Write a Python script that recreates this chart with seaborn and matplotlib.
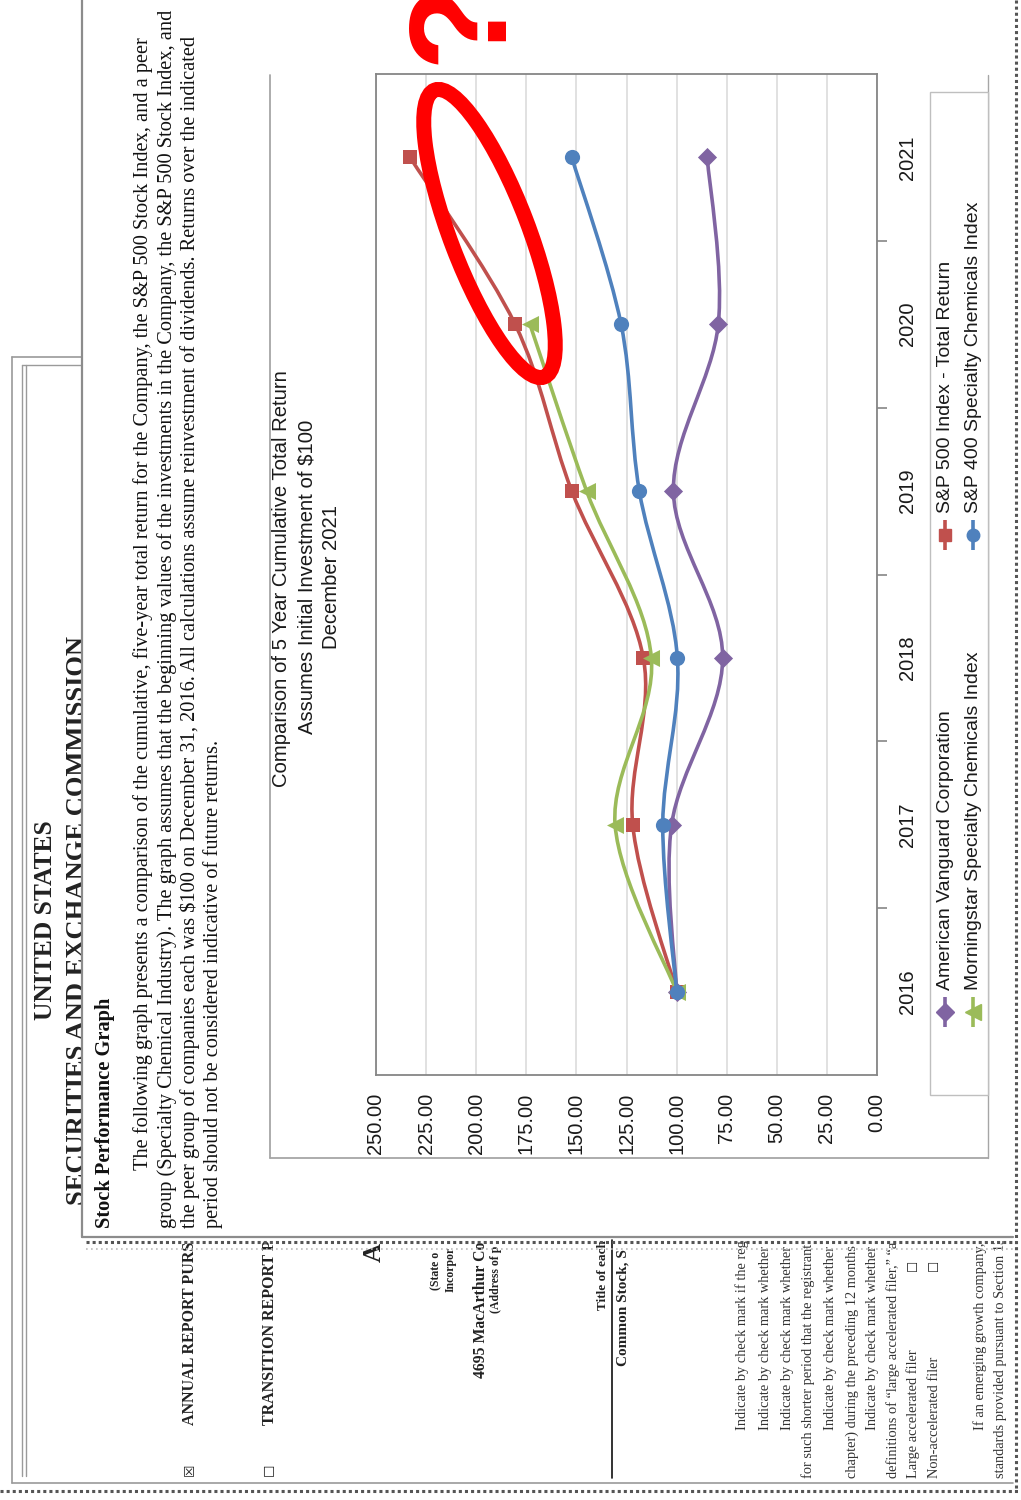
import numpy as np
import pandas as pd
import matplotlib
matplotlib.use("Agg")
import matplotlib.pyplot as plt
import seaborn as sns
from matplotlib.path import Path
from matplotlib.patches import PathPatch, Ellipse, Rectangle

# ---- data -------------------------------------------------------------
years = [2016, 2017, 2018, 2019, 2020, 2021]
series_names = ["American Vanguard Corporation",
                "S&P 500 Index - Total Return",
                "Morningstar Specialty Chemicals Index",
                "S&P 400 Specialty Chemicals Index"]
avd = [100.0, 102.5, 77.0, 101.6, 79.2, 84.7]
sp500 = [100.0, 121.9, 116.6, 152.3, 180.6, 233.0]
morningstar = [100.0, 130.7, 112.6, 144.9, 173.2, np.nan]
sp400 = [100.0, 106.9, 99.6, 118.6, 127.7, 152.3]
value_ticks = [0, 25, 50, 75, 100, 125, 150, 175, 200, 225, 250]
title_lines = ["Comparison of 5 Year Cumulative Total Return",
               "Assumes Initial Investment of $100",
               "December 2021"]

colors = ["#8064A2", "#C0504D", "#9BBB59", "#4F81BD"]
markers = ["D", "s", "<", "o"]
marker_sizes = [95, 115, 150, 120]

values = [avd, sp500, morningstar, sp400]
df = pd.DataFrame({
    "series": np.repeat(series_names, len(years)),
    "year": years * len(series_names),
    "pos": list(range(len(years))) * len(series_names),
    "value": np.concatenate(values),
})

# ---- figure -----------------------------------------------------------
sns.set_theme(style="white")
plt.rcParams["font.family"] = ["Liberation Sans", "DejaVu Sans"]

W, H = 1021, 1500
fig = plt.figure(figsize=(W / 100, H / 100), dpi=100)
fig.patch.set_facecolor("white")
renderer = fig.canvas.get_renderer()

# page layer in pixel units (y grows downward)
page = fig.add_axes([0, 0, 1, 1], zorder=0)
page.set_xlim(0, W)
page.set_ylim(H, 0)
page.axis("off")

SERIF = ["Liberation Serif", "DejaVu Serif"]
SANS = ["Liberation Sans", "DejaVu Sans"]

# region of the underlying cover page left visible below the graph page
lower_clip = Rectangle((0, 1241), W, H - 1241, transform=page.transData)


def vtext(axis, x, y0, s, size, y1=None, z=3, clip=False, **kw):
    """Text reading bottom-to-top, starting at y0; optionally stretched to end at y1."""
    t = axis.text(x, y0, s, rotation=90, rotation_mode="anchor",
                  ha="left", va="center", fontsize=size, zorder=z, **kw)
    if y1 is not None:
        ext = t.get_window_extent(renderer)
        t.set_fontsize(size * (y0 - y1) / ext.height)
    if clip:
        t.set_clip_on(True)
        t.set_clip_path(lower_clip)
    return t


# ---- cover page underneath -------------------------------------------
g = "#9A9A9A"
page.plot([12, 12], [357, 1483], color=g, lw=1.2, zorder=1)
page.plot([22, 22], [365, 1476], color=g, lw=1.0, zorder=1)
page.plot([26, 26], [365, 1476], color=g, lw=1.0, zorder=1)
page.plot([12, 82], [357, 357], color=g, lw=1.2, zorder=1)
page.plot([22, 82], [365, 365], color=g, lw=1.0, zorder=1)
page.plot([12, 1013], [1483, 1483], color=g, lw=1.2, zorder=1)
page.plot([0, W], [1491, 1491], color="#555555", lw=2.2, ls=(0, (1, 1)), zorder=1)
page.plot([1016, 1016], [0, 1491], color="#555555", lw=2.2, ls=(0, (1, 1)), zorder=6)

dark = "#222222"
vtext(page, 45, 1020, "UNITED STATES", 16, y1=820, z=1, family=SERIF,
      weight="bold", color=dark)
vtext(page, 77, 1205, "SECURITIES AND EXCHANGE COMMISSION", 16, y1=635, z=1,
      family=SERIF, weight="bold", color=dark)

page.text(190, 1470, "\u2612", rotation=90, ha="center", va="center",
          fontsize=10, family=["DejaVu Sans"], color=dark, zorder=1)
page.text(270, 1470, "\u2610", rotation=90, ha="center", va="center",
          fontsize=10, family=["DejaVu Sans"], color=dark, zorder=1)

cover_bold = [
    (190, 1425, "ANNUAL REPORT PURS", 11.5),
    (270, 1425, "TRANSITION REPORT P", 11.5),
    (374, 1262, "A", 19),
    (436, 1290, "(State o", 8.5),
    (451, 1292, "Incorpor", 8.5),
    (496, 1313, "(Address of p", 8.5),
    (603, 1310, "Title of each", 9.5),
    (623, 1366, "Common Stock, S", 11),
]
for x, y0, s, size in cover_bold:
    vtext(page, x, y0, s, size, z=1, clip=True, family=SERIF,
          weight="bold", color=dark)
vtext(page, 481, 1378, "4695 MacArthur Co", 12, y1=1243, z=1, clip=True,
      family=SERIF, weight="bold", color=dark)
page.plot([612, 612], [1240, 1478], color="#111111", lw=1.2, zorder=1)

small_lines = [
    (742, 1430, "Indicate by check mark if the reg"),
    (765, 1430, "Indicate by check mark whether"),
    (787, 1430, "Indicate by check mark whether"),
    (808, 1478, "for such shorter period that the registrant"),
    (830, 1430, "Indicate by check mark whether"),
    (852, 1478, "chapter) during the preceding 12 months"),
    (872, 1430, "Indicate by check mark whether"),
    (893, 1478, "definitions of \u201clarge accelerated filer,\u201d \u201ca"),
    (913, 1478, "Large accelerated filer"),
    (934, 1478, "Non-accelerated filer"),
    (980, 1430, "If an emerging growth company,"),
    (1000, 1478, "standards provided pursuant to Section 13"),
]
for x, y0, s in small_lines:
    vtext(page, x, y0, s, 10.4, z=1, clip=True, family=SERIF, color="#333333")
for x in (913, 934):
    page.text(x, 1265, "\u2610", rotation=90, ha="center", va="center",
              fontsize=9, family=["DejaVu Sans"], color=dark, zorder=1)

# ---- front page with the graph -----------------------------------------
page.add_patch(Rectangle((82, -5), 1013 - 82, 1237 + 5, facecolor="white",
                         edgecolor="none", zorder=2))
page.plot([82, 82], [0, 1237], color="#8C8C8C", lw=1.6, zorder=3)
page.plot([82, 1013], [1237, 1237], color="#8C8C8C", lw=1.6, zorder=3)
page.plot([86, 1016], [1242, 1242], color="#555555", lw=2.2, ls=(0, (1, 1)), zorder=3)
page.plot([86, 1016], [1249, 1249], color="#BBBBBB", lw=1.2, ls=(0, (1, 2)), zorder=3)

vtext(page, 105, 1228, "Stock Performance Graph", 12, y1=1000, family=SERIF,
      weight="bold", color="#111111")
para = [
    (143, 1170, 40, "The following graph presents a comparison of the cumulative, five-year total return for the Company, the S&P 500 Stock Index, and a peer"),
    (167, 1228, 12, "group (Specialty Chemical Industry). The graph assumes that the beginning values of the investments in the Company, the S&P 500 Stock Index, and"),
    (190, 1228, 40, "the peer group of companies each was $100 on December 31, 2016. All calculations assume reinvestment of dividends. Returns over the indicated"),
]
for x, y0, y1, s in para:
    vtext(page, x, y0, s, 12, y1=y1, family=SERIF, color="#111111")
vtext(page, 213, 1228, "period should not be considered indicative of future returns.",
      12, y1=740, family=SERIF, color="#111111")

# chart area outline
cg = "#A6A6A6"
page.plot([270, 270], [75, 1158], color=cg, lw=1.3, zorder=3)
page.plot([270, 988], [1158, 1158], color=cg, lw=1.3, zorder=3)
page.plot([988, 988], [75, 1158], color=cg, lw=1.0, zorder=3)

# chart title
t0 = vtext(page, 281, 787, title_lines[0], 14, y1=368, color="#1A1A1A")
tsize = t0.get_fontsize()
for x, s in zip([281, 307, 331], title_lines):
    if s == title_lines[0]:
        continue
    page.text(x, 577, s, rotation=90, rotation_mode="anchor", ha="center",
              va="center", fontsize=tsize, color="#1A1A1A", zorder=3)

# legend box
page.add_patch(Rectangle((930, 92), 988 - 930, 1095 - 92, facecolor="white",
                         edgecolor="#BFBFBF", lw=1.0, zorder=3))
legend_pos = [(945, 1012), (945, 535), (973, 1012), (973, 535)]
for (x, y), name, c, m in zip(legend_pos, series_names, colors, markers):
    page.plot([x, x], [y - 15, y + 15], color=c, lw=2.6, zorder=4,
              solid_capstyle="butt")
    page.plot([x], [y], marker=m, ms=9 if m != "<" else 11, color=c,
              mec=c, zorder=5)
    vtext(page, x, y - 22, name, 14, z=4, color="#1A1A1A")

# ---- the plot ----------------------------------------------------------
L, R, T, B = 376, 877, 74, 1075
ax = fig.add_axes([L / W, 1 - B / H, (R - L) / W, (B - T) / H], zorder=1)
ax.set_facecolor("white")


def smooth_path(xs, ys):
    pts = np.column_stack([xs, ys]).astype(float)
    pts = pts[~np.isnan(pts).any(axis=1)]
    n = len(pts)
    verts, codes = [pts[0]], [Path.MOVETO]
    for i in range(n - 1):
        p0 = pts[i - 1] if i > 0 else pts[i]
        p1, p2 = pts[i], pts[i + 1]
        p3 = pts[i + 2] if i + 2 < n else pts[i + 1]
        verts += [p1 + (p2 - p0) / 6.0, p2 - (p3 - p1) / 6.0, p2]
        codes += [Path.CURVE4] * 3
    return Path(verts, codes)


for k, (name, c, m, s) in enumerate(zip(series_names, colors, markers, marker_sizes)):
    sub = df[df["series"] == name].dropna()
    ax.add_patch(PathPatch(smooth_path(sub["value"], sub["pos"]),
                           facecolor="none", edgecolor=c, lw=2.6,
                           zorder=3 + 2 * k, capstyle="round"))
    sns.scatterplot(data=sub, x="value", y="pos", marker=m, color=c, s=s,
                    linewidth=0, ax=ax, zorder=4 + 2 * k, legend=False)

ax.set_xlim(250, 0)
ax.set_ylim(-0.5, len(years) - 0.5)
ax.set_xlabel("")
ax.set_ylabel("")
ax.set_xticks(value_ticks)
ax.set_xticklabels([f"{v:.2f}" for v in value_ticks])
ax.tick_params(axis="x", length=0, pad=13, labelsize=14.5,
               labelrotation=90, labelcolor="#1A1A1A")
ax.yaxis.tick_right()
ax.set_yticks(range(len(years)))
ax.set_yticklabels([str(y) for y in years], va="center")
ax.set_yticks(np.arange(0.5, len(years) - 1, 1.0), minor=True)
ax.tick_params(axis="y", which="major", length=0, pad=15, labelsize=14.5,
               labelrotation=90, labelcolor="#1A1A1A", right=True, left=False)
ax.tick_params(axis="y", which="minor", length=7, width=1.2, color="#868686",
               direction="out", right=True, left=False)
ax.grid(axis="x", color="#D9D9D9", lw=1.1)
ax.grid(axis="y", visible=False)
for sp in ax.spines.values():
    sp.set_visible(True)
    sp.set_color("#868686")
    sp.set_linewidth(1.3)

# ---- red annotation on top ----------------------------------------------
mark = fig.add_axes([0, 0, 1, 1], zorder=5)
mark.set_xlim(0, W)
mark.set_ylim(H, 0)
mark.axis("off")
mark.patch.set_alpha(0)
mark.add_patch(Ellipse((489.5, 233.5), 307, 78, angle=69.1, facecolor="none",
                       edgecolor="#FF0000", lw=10.8))
mark.text(501, 22, "?", rotation=90, rotation_mode="anchor", ha="center",
          va="baseline", fontsize=100, weight="bold", color="#FF0000",
          family=SANS)

fig.savefig("out.png", dpi=100, facecolor="white")
